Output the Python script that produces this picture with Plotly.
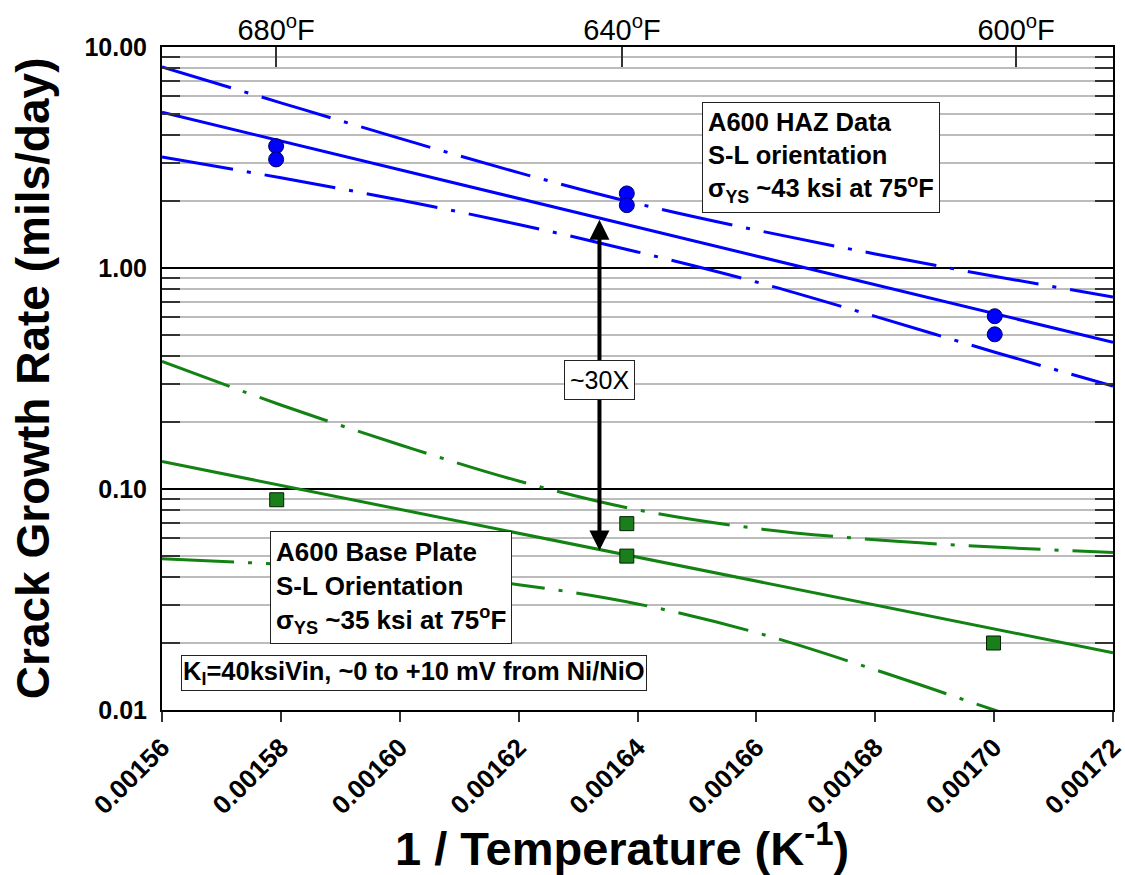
import math
import plotly.graph_objects as go

# ---------------- data ----------------
x_grid = [0.00156, 0.00158, 0.00160, 0.00162, 0.00164, 0.00166, 0.00168, 0.00170, 0.00172]

haz_upper = [8.12, 5.59, 3.86, 2.70, 1.954, 1.484, 1.158, 0.918, 0.740]
haz_lower = [3.18, 2.56, 2.03, 1.574, 1.182, 0.864, 0.604, 0.417, 0.292]
haz_fit_x = [0.00156, 0.00172]
haz_fit = [5.07, 0.461]

base_upper = [0.378, 0.240, 0.1586, 0.1087, 0.0805, 0.0663, 0.0589, 0.0546, 0.0516]
base_lower = [0.0483, 0.0456, 0.0419, 0.0369, 0.0302, 0.0224, 0.0152, 0.0100, 0.0066]
base_fit_x = [0.00156, 0.00172]
base_fit = [0.1332, 0.01814]

haz_pts_x = [0.0015792, 0.0015792, 0.0016382, 0.0016382, 0.0017001, 0.0017001]
haz_pts_y = [3.56, 3.10, 2.175, 1.925, 0.605, 0.501]

base_pts_x = [0.0015793, 0.0016382, 0.0016382, 0.0016999]
base_pts_y = [0.0894, 0.0697, 0.0497, 0.0201]

x_ticks = [0.00156, 0.00158, 0.00160, 0.00162, 0.00164, 0.00166, 0.00168, 0.00170, 0.00172]
top_tick_vals = [0.0015792, 0.0016374, 0.0017037]
top_tick_text = ["680<sup>o</sup>F", "640<sup>o</sup>F", "600<sup>o</sup>F"]
y_minor = [m * d for d in (0.01, 0.1, 1.0) for m in range(2, 10)]

arrow_x = 0.0016336
arrow_top = 1.68
arrow_bottom = 0.0527
ratio_label_y = 0.31

FONT = "Arial, Liberation Sans, sans-serif"
BLUE = "#0000ff"
GREEN = "#128212"
DASHDOT = "72px,14px,4px,14px"

fig = go.Figure()

def line(x, y, color, dash=None, spline=False):
    fig.add_trace(go.Scatter(
        x=x, y=y, mode="lines",
        line=dict(color=color, width=3, dash=dash or "solid",
                  shape="spline" if spline else "linear"),
        hoverinfo="skip", showlegend=False))

line(x_grid, haz_upper, BLUE, DASHDOT, True)
line(x_grid, haz_lower, BLUE, DASHDOT, True)
line(haz_fit_x, haz_fit, BLUE)
line(x_grid, base_upper, GREEN, DASHDOT, True)
line(x_grid, base_lower, GREEN, DASHDOT, True)
line(base_fit_x, base_fit, GREEN)

fig.add_trace(go.Scatter(
    x=haz_pts_x, y=haz_pts_y, mode="markers",
    marker=dict(symbol="circle", size=15, color=BLUE, line=dict(color="#000060", width=1)),
    hoverinfo="skip", showlegend=False))
fig.add_trace(go.Scatter(
    x=base_pts_x, y=base_pts_y, mode="markers",
    marker=dict(symbol="square", size=14, color="#1a7f1a", line=dict(color="#002000", width=1)),
    hoverinfo="skip", showlegend=False))

# invisible trace to anchor the top axis
fig.add_trace(go.Scatter(
    x=top_tick_vals, y=[1, 1, 1], mode="markers", xaxis="x2",
    marker=dict(opacity=0), hoverinfo="skip", showlegend=False))

annotations = [
    # double-headed arrow
    dict(x=arrow_x, y=math.log10(arrow_bottom), ax=arrow_x, ay=math.log10(arrow_top),
         xref="x", yref="y", axref="x", ayref="y", text="", showarrow=True,
         arrowhead=2, startarrowhead=2, arrowside="end+start", arrowsize=1,
         arrowwidth=4, arrowcolor="black", standoff=0, startstandoff=0),
    dict(x=arrow_x, y=math.log10(ratio_label_y), xref="x", yref="y", text="~30X",
         showarrow=False, bgcolor="white", bordercolor="#222", borderwidth=1, borderpad=5,
         font=dict(family=FONT, size=25, color="black")),
    dict(x=0.693, y=0.833, xref="paper", yref="paper", xanchor="center", yanchor="middle",
         text="A600 HAZ Data<br>S-L orientation<br>σ<sub>YS</sub> ~43 ksi at 75<sup>o</sup>F",
         align="left", showarrow=False, bgcolor="white", bordercolor="#222",
         borderwidth=1, borderpad=5,
         font=dict(family=FONT, size=25.5, color="black", weight="bold")),
    dict(x=0.2403, y=0.1855, xref="paper", yref="paper", xanchor="center", yanchor="middle",
         text="A600 Base Plate<br>S-L Orientation<br>σ<sub>YS</sub> ~35 ksi at 75<sup>o</sup>F",
         align="left", showarrow=False, bgcolor="white", bordercolor="#222",
         borderwidth=1, borderpad=5,
         font=dict(family=FONT, size=26, color="black", weight="bold")),
    dict(x=0.2655, y=0.0558, xref="paper", yref="paper", xanchor="center", yanchor="middle",
         text="K<sub>I</sub>=40ksiVin, ~0 to +10 mV from Ni/NiO",
         align="left", showarrow=False, bgcolor="white", bordercolor="#222",
         borderwidth=1, borderpad=1,
         font=dict(family=FONT, size=25.5, color="black", weight="bold")),
    # axis titles
    dict(x=0.484, y=-0.2036, xref="paper", yref="paper", xanchor="center", yanchor="middle",
         text="1 / Temperature (K<sup>-1</sup>)", showarrow=False,
         font=dict(family=FONT, size=47, color="black", weight="bold")),
    dict(x=-0.136, y=0.50, xref="paper", yref="paper", xanchor="center", yanchor="middle",
         text="Crack Growth Rate (mils/day)", textangle=-90, showarrow=False,
         font=dict(family=FONT, size=46, color="black", weight="bold")),
]

fig.update_layout(
    width=1125, height=875,
    margin=dict(l=162, r=12, t=47, b=165, autoexpand=False),
    paper_bgcolor="white", plot_bgcolor="white",
    font=dict(family=FONT, color="black"),
    annotations=annotations,
    xaxis=dict(
        range=[0.00156, 0.00172], tickmode="array", tickvals=x_ticks,
        ticktext=[f"{v:.5f}" for v in x_ticks], tickangle=-45,
        ticks="outside", ticklen=10, tickwidth=1.5, tickcolor="#333",
        showline=True, linecolor="black", linewidth=2, mirror=True,
        showgrid=False, zeroline=False, ticklabeloverflow="allow",
        tickfont=dict(family=FONT, size=26, color="black", weight="bold"),
    ),
    xaxis2=dict(
        range=[0.00156, 0.00172], overlaying="x", side="top", anchor="y",
        tickmode="array", tickvals=top_tick_vals, ticktext=top_tick_text,
        ticks="inside", ticklen=20, tickwidth=1.5, tickcolor="#333",
        showline=False, showgrid=False, zeroline=False, ticklabeloverflow="allow",
        tickfont=dict(family=FONT, size=29, color="black"),
    ),
    yaxis=dict(
        type="log", range=[-2, 1], dtick=1, tickformat=".2f",
        ticks="", ticklabelstandoff=8, ticklabeloverflow="allow",
        showline=True, linecolor="black", linewidth=2, mirror="allticks",
        showgrid=True, gridcolor="black", gridwidth=2,
        tickfont=dict(family=FONT, size=25, color="black", weight="bold"),
        minor=dict(tickmode="array", tickvals=y_minor, ticks="inside", ticklen=18,
                   tickwidth=1.5, tickcolor="#333", showgrid=True,
                   gridcolor="#bcbcbc", gridwidth=2),
    ),
)

fig.write_html("out.html")
